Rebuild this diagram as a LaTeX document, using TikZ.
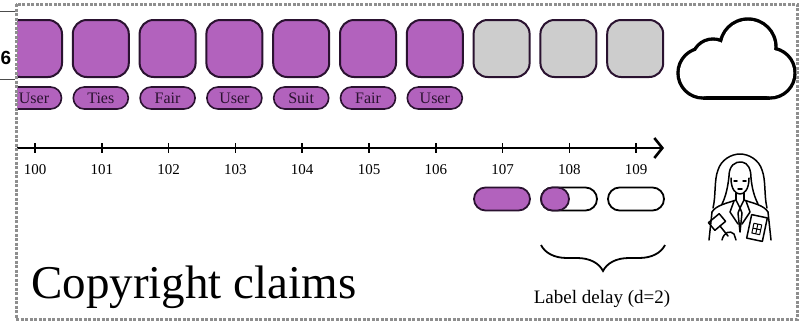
\documentclass[tikz,border=0pt]{standalone}
\usepackage{fontspec}
\setmainfont{Liberation Serif}
\newfontfamily\slidefont{Liberation Sans}
\usetikzlibrary{arrows.meta,decorations.pathreplacing}

\definecolor{lilac}{HTML}{B262BD}
\definecolor{ink}{HTML}{2A1230}
\definecolor{idle}{HTML}{CDCDCD}
\definecolor{rim}{HTML}{8E8E8E}

\begin{document}
\begin{tikzpicture}[x=1pt,y=-1pt,thick]
    \tikzstyle{blk}=[draw=ink, line width=2pt, rounded corners=14pt, minimum width=56pt, minimum height=57pt, inner sep=0pt]
    \tikzstyle{tag}=[draw=ink, fill=lilac, line width=1.6pt, rounded corners=11pt, minimum width=55pt, minimum height=22pt, inner sep=0pt, text=ink, font=\fontsize{16}{16}\selectfont]
    \tikzstyle{pill}=[draw=black, line width=1.8pt, rounded corners=11.5pt, minimum width=56pt, minimum height=23pt, inner sep=0pt]

    \useasboundingbox (0,0) rectangle (802,322);

    % edge of the previous slide
    \draw[black!70, line width=1pt] (0,11) -- (15,11) (0,79) -- (15,79);
    \node (six) at (6,58) {\slidefont\bfseries\fontsize{19}{19}\selectfont 6};

    \begin{scope}
    \clip (17,5) rectangle (796,318);
    % labelled samples, then the ones still to come
    \foreach \i/\t in {0/User,1/Ties,2/Fair,3/User,4/Suit,5/Fair,6/User} {
        \node[blk, fill=lilac] (s\i) at (34+66.8*\i,48.5) {};
        \node[tag] (t\i) at (34+66.8*\i,98) {\t};
    }
    \foreach \i in {7,8,9}
        \node[blk, fill=idle] (s\i) at (34+66.8*\i,48.5) {};
    \end{scope}

    % time axis
    \coordinate (a0) at (17,148);
    \coordinate (a1) at (664,148);
    \draw[line width=2pt, -{Straight Barb[length=8pt,width=20pt,line width=2.6pt]}] (a0) -- (a1);
    \foreach \i in {0,...,9} {
        \pgfmathtruncatemacro\tick{100+\i}
        \draw[line width=1.6pt] (35+66.8*\i,143) -- (35+66.8*\i,153);
        \node (n\i) at (35+66.8*\i,170) {\fontsize{15}{15}\selectfont\tick};
    }

    % labels arriving late
    \node[pill, draw=ink, fill=lilac] (p7) at (502,199) {};
    \node[pill, fill=white] (p8) at (569,199) {};
    \node[pill, draw=ink, fill=lilac, minimum width=28pt, anchor=west] (h8) at (p8.west) {};
    \node[pill, fill=white] (p9) at (636,199) {};

    \coordinate (b0) at (541,245);
    \coordinate (b1) at (665,245);
    \draw[line width=1.8pt, decorate, decoration={brace, mirror, amplitude=26pt}] (b0) -- (b1);
    \node (delay) at (602,299) {\fontsize{19}{19}\selectfont Label delay (d=2)};

    \node[anchor=base west, inner sep=0pt] (title) at (31,298) {\fontsize{47}{47}\selectfont Copyright claims};

    % cloud: black blobs, white blobs on top leave the outline
    \foreach \col/\off in {black/1.7, white/-1.7} {
        \foreach \x/\y/\r in {703/73/25, 770/73/25, 713/60/21, 748/47/28}
            \fill[\col] (\x,\y) circle[radius=\r+\off];
        \fill[\col] (703,48) rectangle (770,98+\off);
    }

    % annotator
    \begin{scope}[line width=1.5pt, line join=round, line cap=round]
    \draw (713,208) .. controls (716,196) and (714,180) .. (718,170) .. controls (721,160) and (731,154) .. (740,154)
        .. controls (749,154) and (759,160) .. (762,170) .. controls (766,180) and (764,196) .. (767,208);
    \draw (729,176) .. controls (729,166) and (735,161) .. (742,162) .. controls (748,163) and (751,169) .. (751,178);
    \draw (729,176) .. controls (728,186) and (726,196) .. (722,204);
    \draw (751,178) .. controls (752,188) and (754,196) .. (758,204);
    \draw (731,178) .. controls (731,190) and (736,194) .. (740,194) .. controls (744,194) and (749,190) .. (749,178);
    \draw (734,181) -- (737,181) (743,181) -- (746,181) (738,189) -- (742,189);
    \draw (736,193) -- (736,200) (744,193) -- (744,200);
    \draw (712,212) .. controls (716,205) and (728,203) .. (736,200) -- (740,208) -- (744,200)
        .. controls (752,203) and (764,205) .. (768,212);
    \draw (712,212) -- (709,240) (768,212) -- (771,240);
    \draw (734,201) -- (730,212) -- (738,224) (746,201) -- (750,212) -- (742,224);
    \draw (740,208) -- (738,213) -- (740,232) -- (742,213) -- cycle;
    \draw[rotate around={40:(717,222)}] (710,217) rectangle (724,227);
    \draw (720,226) -- (728,236);
    \draw (722,240) .. controls (724,232) and (730,230) .. (734,234) -- (736,240);
    \draw[rotate around={-12:(757,228)}] (749,216) rectangle (765,240);
    \draw[rotate around={-12:(757,228)}, line width=1pt] (753,224) rectangle (761,234) (753,229) -- (761,229) (757,224) -- (757,234);
    \end{scope}

    % page frame
    \draw[rim, line width=3pt, dash pattern=on 3pt off 1.5pt] (16,4) rectangle (797,319);
\end{tikzpicture}
\end{document}
